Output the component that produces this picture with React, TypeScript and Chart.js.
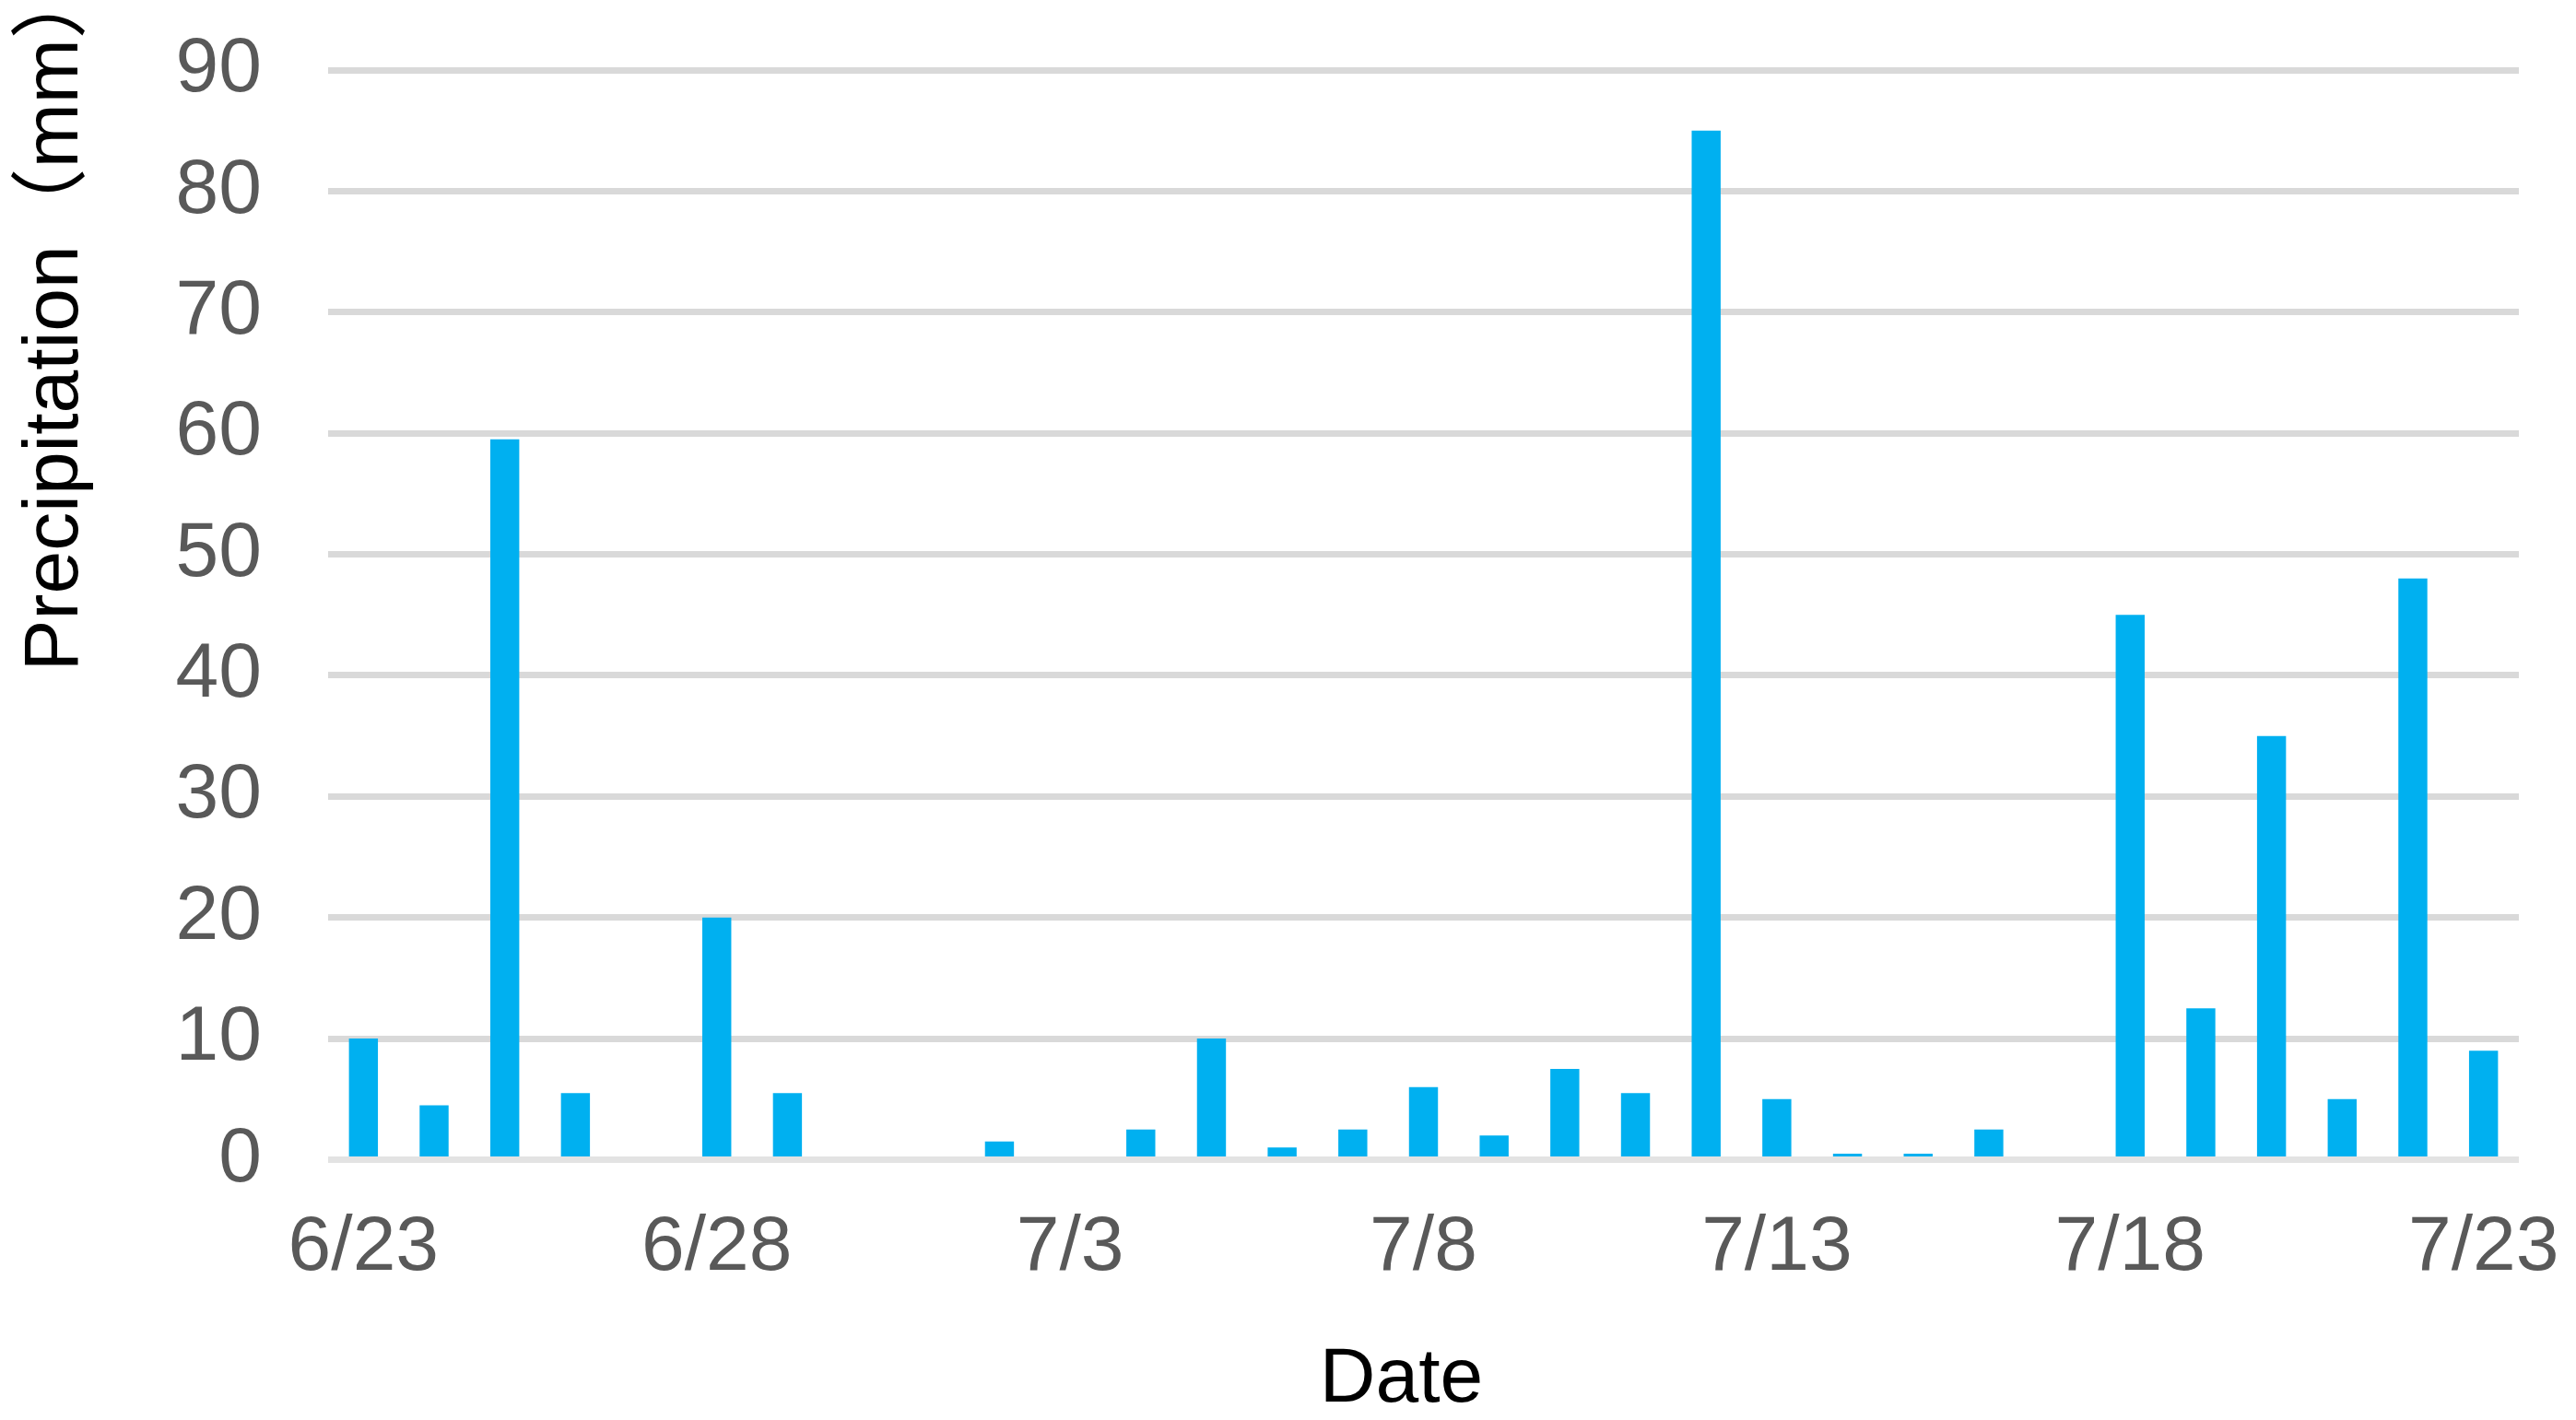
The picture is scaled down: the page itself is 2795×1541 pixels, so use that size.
import React, { useEffect, useRef } from "react";
import { Chart, registerables } from "chart.js";

Chart.register(...registerables);

const categories: string[] = [
  "6/23", "6/24", "6/25", "6/26", "6/27", "6/28", "6/29", "6/30",
  "7/1", "7/2", "7/3", "7/4", "7/5", "7/6", "7/7", "7/8", "7/9", "7/10",
  "7/11", "7/12", "7/13", "7/14", "7/15", "7/16", "7/17", "7/18", "7/19",
  "7/20", "7/21", "7/22", "7/23",
];

const precipitation: number[] = [
  10, 4.5, 59.5, 5.5, 0, 20, 5.5, 0,
  0, 1.5, 0, 2.5, 10, 1, 2.5, 6, 2, 7.5,
  5.5, 85, 5, 0.5, 0.5, 2.5, 0, 45, 12.5,
  35, 5, 48, 9,
];

const yTicks: number[] = [0, 10, 20, 30, 40, 50, 60, 70, 80, 90];
const X_TITLE = "Date";
const Y_TITLE = "Precipitation（mm）";
const LABEL_EVERY = 5;

const FONT = '"Liberation Sans", Arial, "Noto Sans CJK SC", sans-serif';
const W = 2795;
const H = 1541;
const CLEAR = "rgba(0,0,0,0)";

const titlePlugin = {
  id: "manualAxisTitles",
  afterDraw(chart: any) {
    const ctx = chart.ctx as CanvasRenderingContext2D;
    const { left, right, bottom } = chart.chartArea;
    ctx.save();
    ctx.fillStyle = "#000000";
    ctx.font = `84px ${FONT}`;
    ctx.textBaseline = "alphabetic";
    // x axis title
    ctx.textAlign = "center";
    ctx.fillText(X_TITLE, (left + right) / 2 - 24, bottom + 262);
    // y axis title
    ctx.translate(84, bottom - 530);
    ctx.rotate(-Math.PI / 2);
    ctx.textAlign = "left";
    ctx.fillText(Y_TITLE, 0, 0);
    ctx.restore();
  },
};

export default function App() {
  const ref = useRef<HTMLCanvasElement | null>(null);

  useEffect(() => {
    if (!ref.current) return;
    const chart = new Chart(ref.current, {
      type: "bar",
      data: {
        labels: categories,
        datasets: [
          {
            label: "Precipitation",
            data: precipitation,
            backgroundColor: "#00B0F0",
            borderWidth: 0,
            barPercentage: 0.41,
            categoryPercentage: 1,
          },
        ],
      },
      plugins: [titlePlugin],
      options: {
        responsive: false,
        animation: false,
        devicePixelRatio: 1,
        layout: { padding: { top: 76, right: 62, bottom: 0, left: 0 } },
        plugins: {
          legend: { display: false },
          tooltip: { enabled: false },
          title: { display: false },
        },
        scales: {
          x: {
            grid: {
              display: true,
              drawOnChartArea: false,
              drawTicks: true,
              tickLength: 46,
              tickColor: CLEAR,
              color: CLEAR,
            },
            border: { display: false },
            ticks: {
              autoSkip: false,
              maxRotation: 0,
              minRotation: 0,
              padding: 0,
              color: "#595959",
              font: { family: FONT, size: 84 },
              callback: (_v: any, i: number) =>
                i % LABEL_EVERY === 0 ? categories[i] : "",
            },
            afterFit: (scale: any) => {
              scale.height = H - 1258.5;
            },
          },
          y: {
            min: yTicks[0],
            max: yTicks[yTicks.length - 1],
            afterBuildTicks: (scale: any) => {
              scale.ticks = yTicks.map((v) => ({ value: v }));
            },
            grid: {
              drawTicks: true,
              tickLength: 72,
              tickColor: CLEAR,
              lineWidth: 7,
              color: (c: any) =>
                c.tick && c.tick.value === 0 ? "#E3E3E3" : "#D9D9D9",
            },
            border: { display: false },
            ticks: {
              padding: 0,
              color: "#595959",
              font: { family: FONT, size: 84 },
            },
            afterFit: (scale: any) => {
              scale.width = 356;
            },
          },
        },
      },
    });
    return () => chart.destroy();
  }, []);

  return (
    <div
      style={{
        position: "absolute",
        left: 0,
        top: 0,
        width: W,
        height: H,
        background: "#ffffff",
        overflow: "hidden",
      }}
    >
      <canvas ref={ref} width={W} height={H} style={{ display: "block" }} />
    </div>
  );
}
